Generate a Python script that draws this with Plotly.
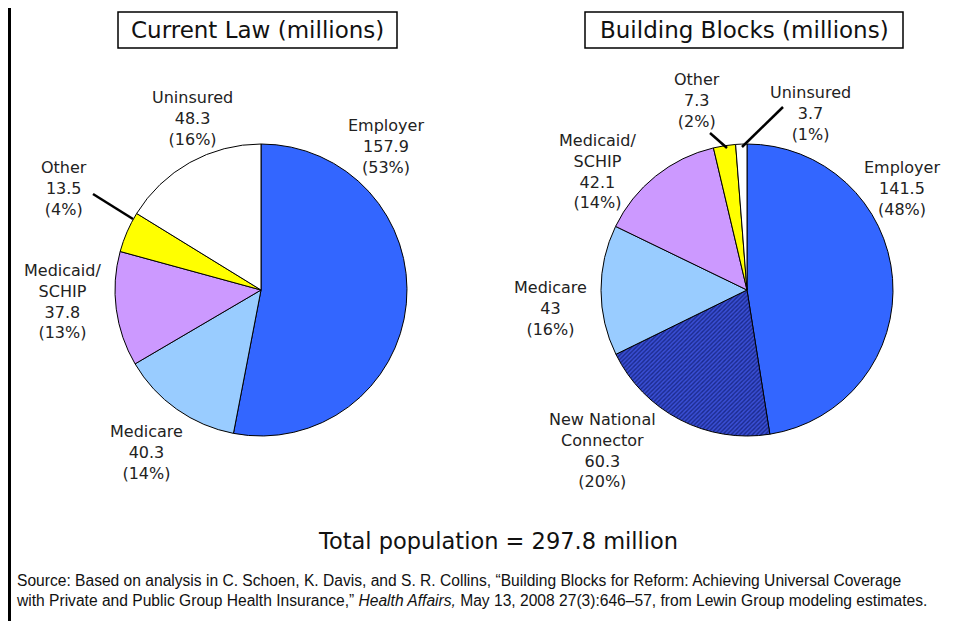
import plotly.graph_objects as go

W, H = 956, 621
OFF = 8  # page body margin offset

# ---- data ----
left_labels = ["Employer", "Medicare", "Medicaid/<br>SCHIP", "Other", "Uninsured"]
left_values = [157.9, 40.3, 37.8, 13.5, 48.3]
left_pct = ["53%", "14%", "13%", "4%", "16%"]
left_colors = ["#3366FF", "#99CCFF", "#CC99FF", "#FFFF00", "#FFFFFF"]

right_labels = ["Employer", "New National<br>Connector", "Medicare", "Medicaid/<br>SCHIP", "Other", "Uninsured"]
right_values = [141.5, 60.3, 43, 42.1, 7.3, 3.7]
right_pct = ["48%", "20%", "16%", "14%", "2%", "1%"]
right_colors = ["#3366FF", "#3A4FD6", "#99CCFF", "#CC99FF", "#FFFF00", "#FFFFFF"]
right_patterns = ["", "/", "", "", "", ""]

titles = ["Current Law (millions)", "Building Blocks (millions)"]
total_text = "Total population = 297.8 million"
source_text = ("Source: Based on analysis in C. Schoen, K. Davis, and S. R. Collins, \u201cBuilding Blocks for Reform: Achieving Universal Coverage<br>"
               "with Private and Public Group Health Insurance,\u201d <i>Health Affairs,</i> May 13, 2008 27(3):646\u201357, from Lewin Group modeling estimates.")

# label positions in pixels (layout)
left_label_pos = [(386, 146), (146, 452), (62, 301), (64, 189), (192, 118)]
right_label_pos = [(902, 189), (602, 451), (550, 309), (597, 171), (697, 100), (810, 114)]


def px(x):
    return (x - OFF) / W


def py(y):
    return 1 - (y - OFF) / H


fig = go.Figure()

fig.add_trace(go.Pie(
    values=left_values, labels=left_labels, sort=False, direction="clockwise", rotation=0,
    marker=dict(colors=left_colors, line=dict(color="black", width=1)),
    textinfo="none", hoverinfo="label+value", showlegend=False,
    domain=dict(x=[px(115), px(407)], y=[py(436), py(144)]),
))

fig.add_trace(go.Pie(
    values=right_values, labels=right_labels, sort=False, direction="clockwise", rotation=0,
    marker=dict(colors=right_colors, line=dict(color="black", width=1),
                pattern=dict(shape=right_patterns, fgcolor="#1B2A8C", bgcolor=right_colors,
                             size=3, solidity=0.45)),
    textinfo="none", hoverinfo="label+value", showlegend=False,
    domain=dict(x=[px(601), px(893)], y=[py(436), py(144)]),
))

font_lbl = dict(family="DejaVu Sans", size=16, color="#222222")
annotations = []
for lab, val, pct, (x, y) in zip(left_labels, left_values, left_pct, left_label_pos):
    annotations.append(dict(x=px(x), y=py(y), xref="paper", yref="paper", showarrow=False,
                            xanchor="center", yanchor="middle",
                            text=f"{lab}<br>{val:g}<br>({pct})", font=font_lbl, align="center"))
for lab, val, pct, (x, y) in zip(right_labels, right_values, right_pct, right_label_pos):
    annotations.append(dict(x=px(x), y=py(y), xref="paper", yref="paper", showarrow=False,
                            xanchor="center", yanchor="middle",
                            text=f"{lab}<br>{val:g}<br>({pct})", font=font_lbl, align="center"))

# titles
for t, cx in zip(titles, [257, 744]):
    annotations.append(dict(x=px(cx), y=py(30), xref="paper", yref="paper", showarrow=False,
                            xanchor="center", yanchor="middle",
                            text=t, font=dict(family="DejaVu Sans", size=23, color="#111111")))

annotations.append(dict(x=px(498), y=py(541), xref="paper", yref="paper", showarrow=False,
                        xanchor="center", yanchor="middle",
                        text=total_text, font=dict(family="DejaVu Sans", size=22.5, color="#111111")))
annotations.append(dict(x=px(14), y=py(590), xref="paper", yref="paper", showarrow=False,
                        xanchor="left", yanchor="middle", align="left", text=source_text,
                        font=dict(family="Liberation Sans", size=15.6, color="#111111")))

shapes = [
    dict(type="rect", xref="paper", yref="paper", x0=px(118), x1=px(397), y0=py(48), y1=py(12),
         line=dict(color="black", width=1.5)),
    dict(type="rect", xref="paper", yref="paper", x0=px(585), x1=px(903), y0=py(48), y1=py(12),
         line=dict(color="black", width=1.5)),
    dict(type="line", xref="paper", yref="paper", x0=px(9.5), x1=px(9.5), y0=0, y1=1.02,
         line=dict(color="black", width=3)),
    # leader lines
    dict(type="line", xref="paper", yref="paper", x0=px(93), y0=py(194), x1=px(133), y1=py(219),
         line=dict(color="black", width=2.5)),
    dict(type="line", xref="paper", yref="paper", x0=px(710), y0=py(133), x1=px(727), y1=py(148),
         line=dict(color="black", width=2.5)),
    dict(type="line", xref="paper", yref="paper", x0=px(783), y0=py(107), x1=px(742), y1=py(147),
         line=dict(color="black", width=2.5)),
]

fig.update_layout(width=W, height=H, margin=dict(l=0, r=0, t=0, b=0),
                  paper_bgcolor="white", plot_bgcolor="white",
                  annotations=annotations, shapes=shapes)

fig.write_html("out.html")
